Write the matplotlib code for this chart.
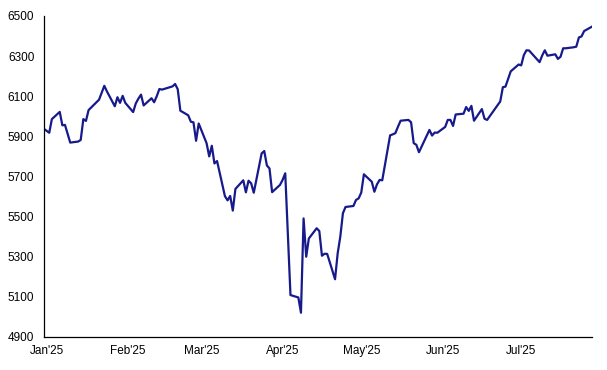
import matplotlib
matplotlib.use('Agg')
import matplotlib.pyplot as plt
import pandas as pd

dates = [
    '2024-12-31', '2025-01-02', '2025-01-03', '2025-01-06', '2025-01-07', '2025-01-08',
    '2025-01-10', '2025-01-13', '2025-01-14', '2025-01-15', '2025-01-16', '2025-01-17',
    '2025-01-21', '2025-01-22', '2025-01-23', '2025-01-24', '2025-01-27', '2025-01-28',
    '2025-01-29', '2025-01-30', '2025-01-31', '2025-02-03', '2025-02-04', '2025-02-05',
    '2025-02-06', '2025-02-07', '2025-02-10', '2025-02-11', '2025-02-12', '2025-02-13',
    '2025-02-14', '2025-02-18', '2025-02-19', '2025-02-20', '2025-02-21', '2025-02-24',
    '2025-02-25', '2025-02-26', '2025-02-27', '2025-02-28', '2025-03-03', '2025-03-04',
    '2025-03-05', '2025-03-06', '2025-03-07', '2025-03-10', '2025-03-11', '2025-03-12',
    '2025-03-13', '2025-03-14', '2025-03-17', '2025-03-18', '2025-03-19', '2025-03-20',
    '2025-03-21', '2025-03-24', '2025-03-25', '2025-03-26', '2025-03-27', '2025-03-28',
    '2025-03-31', '2025-04-01', '2025-04-02', '2025-04-03', '2025-04-04', '2025-04-07',
    '2025-04-08', '2025-04-09', '2025-04-10', '2025-04-11', '2025-04-14', '2025-04-15',
    '2025-04-16', '2025-04-17', '2025-04-18', '2025-04-21', '2025-04-22', '2025-04-23',
    '2025-04-24', '2025-04-25', '2025-04-28', '2025-04-29', '2025-04-30', '2025-05-01',
    '2025-05-02', '2025-05-05', '2025-05-06', '2025-05-07', '2025-05-08', '2025-05-09',
    '2025-05-12', '2025-05-13', '2025-05-14', '2025-05-15', '2025-05-16', '2025-05-19',
    '2025-05-20', '2025-05-21', '2025-05-22', '2025-05-23', '2025-05-27', '2025-05-28',
    '2025-05-29', '2025-05-30', '2025-06-02', '2025-06-03', '2025-06-04', '2025-06-05',
    '2025-06-06', '2025-06-09', '2025-06-10', '2025-06-11', '2025-06-12', '2025-06-13',
    '2025-06-16', '2025-06-17', '2025-06-18', '2025-06-20', '2025-06-23', '2025-06-24',
    '2025-06-25', '2025-06-26', '2025-06-27', '2025-06-30', '2025-07-01', '2025-07-02',
    '2025-07-03', '2025-07-04', '2025-07-07', '2025-07-08', '2025-07-09', '2025-07-10',
    '2025-07-11', '2025-07-14', '2025-07-15', '2025-07-16', '2025-07-17', '2025-07-18',
    '2025-07-21', '2025-07-22', '2025-07-23', '2025-07-24', '2025-07-25', '2025-07-28',
]

closes = [
    5937, 5918, 5986, 6022, 5955, 5957,
    5869, 5874, 5882, 5986, 5977, 6031,
    6083, 6117, 6152, 6124, 6050, 6095,
    6067, 6102, 6067, 6021, 6064, 6088,
    6108, 6054, 6090, 6070, 6100, 6136,
    6133, 6149, 6161, 6135, 6028, 6005,
    5973, 5970, 5878, 5964, 5866, 5800,
    5853, 5765, 5777, 5602, 5581, 5603,
    5530, 5638, 5681, 5621, 5679, 5666,
    5619, 5815, 5827, 5755, 5740, 5622,
    5658, 5683, 5716, 5407, 5109, 5097,
    5021, 5491, 5300, 5391, 5442, 5428,
    5305, 5315, 5314, 5188, 5317, 5400,
    5517, 5548, 5553, 5583, 5591, 5620,
    5711, 5674, 5624, 5661, 5683, 5681,
    5905, 5910, 5916, 5948, 5978, 5982,
    5970, 5866, 5858, 5821, 5932, 5904,
    5919, 5918, 5947, 5982, 5982, 5952,
    6009, 6013, 6046, 6027, 6052, 5978,
    6036, 5988, 5982, 6019, 6074, 6145,
    6148, 6186, 6224, 6258, 6254, 6305,
    6329, 6328, 6285, 6270, 6303, 6329,
    6302, 6309, 6286, 6297, 6339, 6339,
    6344, 6347, 6393, 6398, 6425, 6447,
]

month_ticks = ['2025-01-01', '2025-02-01', '2025-03-01', '2025-04-01',
               '2025-05-01', '2025-06-01', '2025-07-01']
month_labels = ["Jan'25", "Feb'25", "Mar'25", "Apr'25", "May'25", "Jun'25", "Jul'25"]
y_ticks = [4900, 5100, 5300, 5500, 5700, 5900, 6100, 6300, 6500]

plt.rcParams['font.family'] = ['Liberation Sans', 'DejaVu Sans']

df = pd.DataFrame({'date': pd.to_datetime(dates), 'close': closes})

fig = plt.figure(figsize=(6.07, 3.70), dpi=100)
ax = fig.add_axes([0.0725, 0.0892, 0.9028, 0.8676])

ax.plot(df['date'], df['close'], color='#161a8a', linewidth=1.6)

ax.set_xlim(df['date'].iloc[0], df['date'].iloc[-1])
ax.set_ylim(4900, 6500)
ax.set_yticks(y_ticks)
ax.set_xticks(pd.to_datetime(month_ticks))
ax.set_xticklabels(month_labels)

for side in ['top', 'right']:
    ax.spines[side].set_visible(False)
for side in ['left', 'bottom']:
    ax.spines[side].set_linewidth(0.9)
    ax.spines[side].set_color('black')

ax.tick_params(axis='both', length=0)
ax.tick_params(axis='y', labelsize=8.5, pad=7)
ax.tick_params(axis='x', labelsize=8.5, pad=6)

plt.savefig('out.png', dpi=100)
plt.close()
